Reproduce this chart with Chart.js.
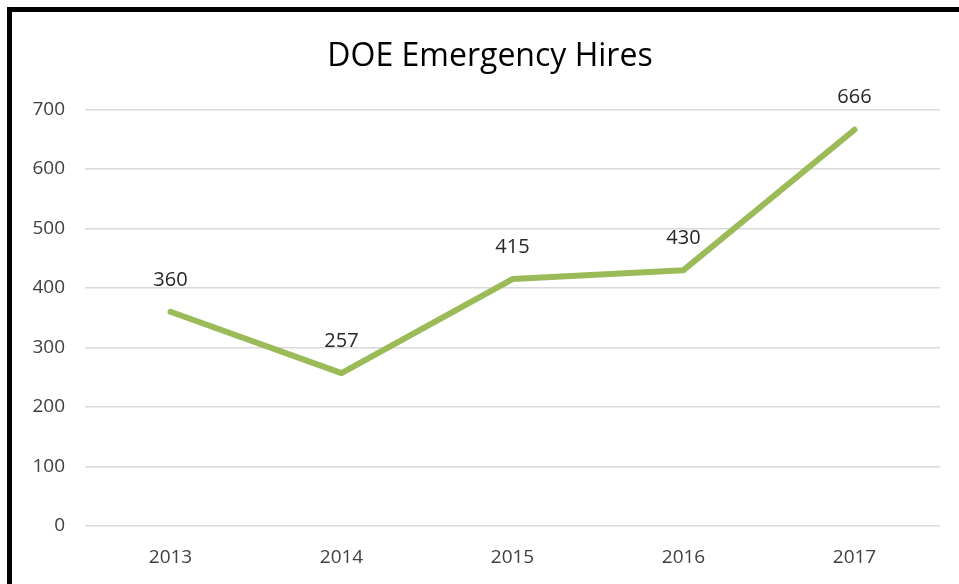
<!DOCTYPE html>
<html>
<head>
<meta charset="utf-8">
<script src="https://cdn.jsdelivr.net/npm/chart.js@4"></script>
<style>
  html, body { margin: 0; padding: 0; background: #fff; }
  #wrap { position: relative; width: 959px; height: 584px; overflow: hidden; background: #fff; }
  #frame { position: absolute; left: 7px; top: 7px; width: 1000px; height: 1000px; border-top: 5px solid #000; border-left: 5px solid #000; box-sizing: border-box; }
  canvas { position: absolute; left: 0; top: 0; }
</style>
</head>
<body>
<div id="wrap">
  <div id="frame"></div>
  <canvas id="c" width="959" height="584"></canvas>
</div>
<script>
const title = "DOE Emergency Hires";
const categories = ["2013", "2014", "2015", "2016", "2017"];
const hires = [360, 257, 415, 430, 666];
const yTicks = [0, 100, 200, 300, 400, 500, 600, 700];

const FONT = "'Open Sans', 'Liberation Sans', sans-serif";

const labelPlugin = {
  id: 'pointLabels',
  afterDatasetsDraw(chart) {
    const ctx = chart.ctx;
    const meta = chart.getDatasetMeta(0);
    ctx.save();
    ctx.font = "20px " + FONT;
    ctx.fillStyle = "#262626";
    ctx.textAlign = "center";
    ctx.textBaseline = "middle";
    meta.data.forEach((pt, i) => {
      ctx.fillText(String(hires[i]), pt.x, pt.y - 32);
    });
    ctx.restore();
  }
};

new Chart(document.getElementById('c'), {
  type: 'line',
  data: {
    labels: categories,
    datasets: [{
      data: hires,
      borderColor: '#9BBB59',
      borderWidth: 6,
      pointRadius: 0,
      tension: 0,
      borderCapStyle: 'round',
      borderJoinStyle: 'round',
      fill: false
    }]
  },
  options: {
    responsive: false,
    animation: false,
    devicePixelRatio: 1,
    layout: { padding: { left: 0, right: 19, top: 109.5, bottom: 0 } },
    plugins: {
      legend: { display: false },
      tooltip: { enabled: false },
      title: { display: false }
    },
    scales: {
      x: {
        offset: true,
        grid: { display: false, drawTicks: false },
        border: { display: false },
        ticks: { color: '#404040', font: { family: FONT, size: 19 }, padding: 20, maxRotation: 0 },
        afterFit(s) { s.height = 58; }
      },
      y: {
        min: 0, max: 700,
        afterBuildTicks(s) { s.ticks = yTicks.map(v => ({ value: v })); },
        grid: { color: '#D9D9D9', lineWidth: 1.5, drawTicks: false },
        border: { display: false },
        ticks: { color: '#404040', font: { family: FONT, size: 19 }, padding: 20 },
        afterFit(s) { s.width = 85; }
      }
    }
  },
  plugins: [labelPlugin, {
    id: 'titleText',
    afterDraw(chart) {
      const ctx = chart.ctx;
      ctx.save();
      ctx.font = "32px " + FONT;
      ctx.fillStyle = "#000";
      ctx.textAlign = "center";
      ctx.textBaseline = "middle";
      ctx.fillText(title, 490, 57);
      ctx.restore();
    }
  }]
});
</script>
</body>
</html>
